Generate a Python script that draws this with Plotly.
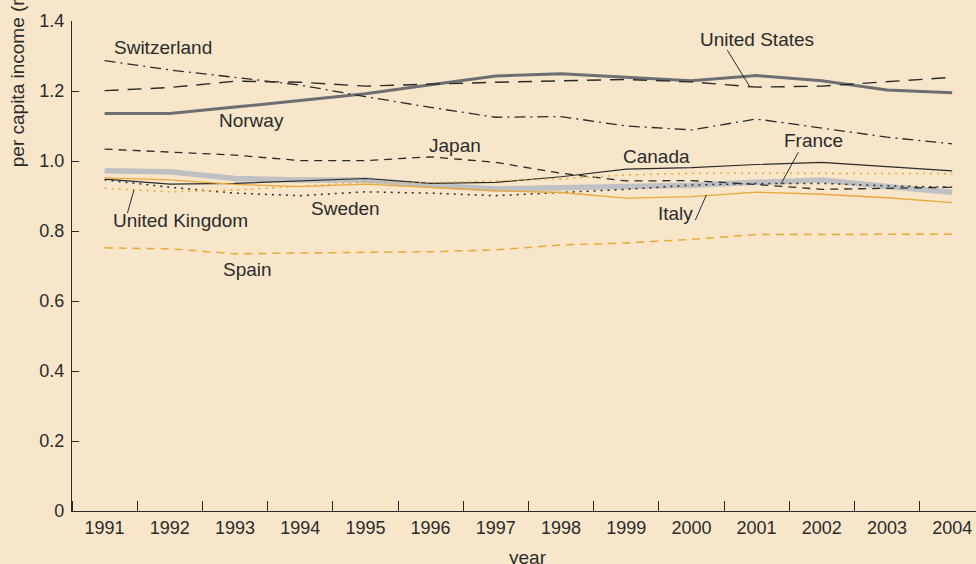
import plotly.graph_objects as go

years = list(range(1991, 2005))

norway      = [1.136, 1.136, 1.154, 1.172, 1.192, 1.218, 1.243, 1.249, 1.240, 1.229, 1.244, 1.229, 1.203, 1.195]
us          = [1.201, 1.210, 1.228, 1.225, 1.214, 1.220, 1.225, 1.229, 1.233, 1.226, 1.211, 1.214, 1.227, 1.239]
switzerland = [1.287, 1.260, 1.239, 1.217, 1.184, 1.153, 1.125, 1.127, 1.100, 1.089, 1.120, 1.095, 1.068, 1.049]
japan       = [1.034, 1.025, 1.017, 1.001, 1.001, 1.012, 0.996, 0.965, 0.943, 0.944, 0.933, 0.919, 0.922, 0.925]
canada      = [0.948, 0.934, 0.936, 0.944, 0.950, 0.936, 0.939, 0.955, 0.977, 0.981, 0.990, 0.996, 0.984, 0.972]
france      = [0.972, 0.969, 0.950, 0.946, 0.946, 0.931, 0.920, 0.924, 0.927, 0.931, 0.939, 0.946, 0.927, 0.911]
italy       = [0.952, 0.946, 0.933, 0.927, 0.934, 0.925, 0.915, 0.910, 0.894, 0.898, 0.911, 0.905, 0.895, 0.881]
sweden      = [0.946, 0.925, 0.908, 0.901, 0.912, 0.908, 0.901, 0.910, 0.919, 0.931, 0.936, 0.936, 0.929, 0.925]
uk          = [0.922, 0.912, 0.917, 0.929, 0.939, 0.938, 0.944, 0.949, 0.960, 0.965, 0.965, 0.965, 0.965, 0.964]
spain       = [0.752, 0.749, 0.735, 0.738, 0.739, 0.741, 0.746, 0.760, 0.766, 0.776, 0.790, 0.790, 0.790, 0.791]

y_ticks = [0, 0.2, 0.4, 0.6, 0.8, 1.0, 1.2, 1.4]
y_tick_text = ["0", "0.2", "0.4", "0.6", "0.8", "1.0", "1.2", "1.4"]

BG = "#F7E6CA"
INK = "#2b2b2b"
ORANGE = "#E9A83A"
LABEL_FONT = dict(family="Liberation Sans, Arial, sans-serif", size=19, color=INK)
TICK_FONT = dict(family="Liberation Sans, Arial, sans-serif", size=18, color=INK)

series = [
    ("France", france, dict(color="#BFC0C3", width=5.5)),
    ("Norway", norway, dict(color="#6E6F73", width=3)),
    ("United States", us, dict(color=INK, width=1.4, dash="14px,9px")),
    ("Switzerland", switzerland, dict(color=INK, width=1.3, dash="11px,5px,2px,5px")),
    ("Japan", japan, dict(color=INK, width=1.3, dash="8px,6px")),
    ("Canada", canada, dict(color=INK, width=1.2)),
    ("Sweden", sweden, dict(color=INK, width=1.5, dash="2px,5px")),
    ("United Kingdom", uk, dict(color=ORANGE, width=1.6, dash="2px,5px")),
    ("Italy", italy, dict(color=ORANGE, width=1.3)),
    ("Spain", spain, dict(color=ORANGE, width=1.5, dash="8px,6px")),
]

fig = go.Figure()
for name, vals, line in series:
    fig.add_trace(go.Scatter(x=years, y=vals, mode="lines", name=name, line=line,
                             showlegend=False, hoverinfo="x+y+name"))

labels = [
    ("Switzerland", 1991.89, 1.323),
    ("Norway", 1993.26, 1.116),
    ("Japan", 1996.37, 1.043),
    ("Canada", 1999.46, 1.012),
    ("United States", 2001.0, 1.346),
    ("France", 2001.87, 1.059),
    ("Italy", 1999.76, 0.849),
    ("Sweden", 1994.69, 0.865),
    ("United Kingdom", 1992.17, 0.831),
    ("Spain", 1993.19, 0.689),
]
annotations = [dict(text=t, x=x, y=y, xref="x", yref="y", showarrow=False,
                    font=LABEL_FONT, xanchor="center", yanchor="middle") for t, x, y in labels]

annotations.append(dict(text="per capita income (relative to OECD average)", textangle=-90,
                        xref="paper", yref="paper", x=-0.06, y=0.697,
                        xanchor="center", yanchor="bottom", showarrow=False, font=LABEL_FONT))
annotations.append(dict(text="year", xref="x", yref="paper", x=1997.5, y=-0.094,
                        xanchor="center", yanchor="middle", showarrow=False, font=LABEL_FONT))

pointers = [
    (1991.35, 0.851, 1991.45, 0.917),
    (2000.55, 1.317, 2000.90, 1.211),
    (2001.64, 1.025, 2001.37, 0.933),
    (2000.06, 0.831, 2000.23, 0.903),
]
shapes = [dict(type="line", xref="x", yref="y", x0=a, y0=b, x1=c, y1=d,
               line=dict(color=INK, width=1)) for a, b, c, d in pointers]

fig.update_layout(
    width=976, height=564,
    margin=dict(l=72, r=0, t=21, b=53),
    paper_bgcolor=BG, plot_bgcolor=BG,
    annotations=annotations, shapes=shapes,
    showlegend=False,
    xaxis=dict(range=[1990.5, 2004.365], tickmode="linear", tick0=1991, dtick=1,
               showgrid=False, zeroline=False, showline=True, linecolor=INK, linewidth=1.3,
               ticks="", tickfont=TICK_FONT,
               minor=dict(ticks="inside", ticklen=10, tickcolor=INK, tickwidth=1.2,
                          tick0=1990.5, dtick=1, showgrid=False)),
    yaxis=dict(range=[0, 1.4], tickmode="array", tickvals=y_ticks, ticktext=y_tick_text,
               showgrid=False, zeroline=False, showline=True, linecolor=INK, linewidth=1.3,
               ticks="inside", ticklen=7, tickcolor=INK, tickwidth=1.2, tickfont=TICK_FONT,
               ticklabelstandoff=3),
)

fig.write_html("out.html", config={"displayModeBar": False},
               post_script="document.body.style.margin='0';document.body.style.background='%s';" % BG)
